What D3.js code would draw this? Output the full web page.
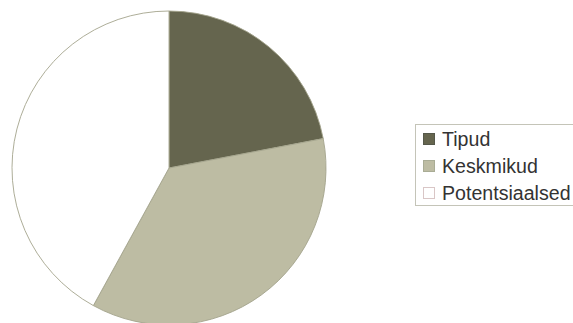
<!DOCTYPE html>
<html>
<head>
<meta charset="utf-8">
<script src="https://cdn.jsdelivr.net/npm/d3@7"></script>
<style>
  html, body { margin: 0; padding: 0; background: #fff; }
  svg { display: block; }
</style>
</head>
<body>
<div id="chart"></div>
<script>
// chart data
const categories = ["Tipud", "Keskmikud", "Potentsiaalsed"];
const values = [22, 36, 42];
const colors = ["#65654e", "#bdbca3", "#ffffff"];
const swatchBorders = ["#55584a", "#a9ac95", "#d9c6c6"];

const width = 573;
const height = 323;

const svg = d3
  .select("#chart")
  .append("svg")
  .attr("width", width)
  .attr("height", height);

// pie
const cx = 169, cy = 168, radius = 157;

const pie = d3.pie().sort(null).value(function(d) { return d; });
const arc = d3.arc().innerRadius(0).outerRadius(radius);

const g = svg.append("g").attr("transform", `translate(${cx}, ${cy})`);

g.selectAll("path")
  .data(pie(values))
  .enter()
  .append("path")
  .attr("d", arc)
  .attr("fill", function(d, i) { return colors[i]; })
  .attr("stroke", "#a4a48c")
  .attr("stroke-width", 0.9);

// legend (box runs off the right edge like the scan)
const legend = svg.append("g").attr("transform", "translate(415, 124)");

legend
  .append("rect")
  .attr("x", 0.5)
  .attr("y", 0.5)
  .attr("width", 175)
  .attr("height", 81)
  .attr("fill", "#fff")
  .attr("stroke", "#c4c4b8")
  .attr("stroke-width", 1);

const rowY = d3.scalePoint().domain(categories).range([22, 76]);

const row = legend
  .selectAll(".row")
  .data(categories)
  .enter()
  .append("g")
  .attr("class", "row")
  .attr("transform", function(d) { return `translate(0, ${rowY(d)})`; });

row
  .append("rect")
  .attr("x", 8.5)
  .attr("y", -12.5)
  .attr("width", 11)
  .attr("height", 11)
  .attr("fill", function(d, i) { return colors[i]; })
  .attr("stroke", function(d, i) { return swatchBorders[i]; });

row
  .append("text")
  .attr("x", 27)
  .attr("y", 0)
  .attr("font-family", "Liberation Sans, Arial, sans-serif")
  .attr("font-size", 19.6)
  .attr("fill", "#333333")
  .text(function(d) { return d; });
</script>
</body>
</html>
